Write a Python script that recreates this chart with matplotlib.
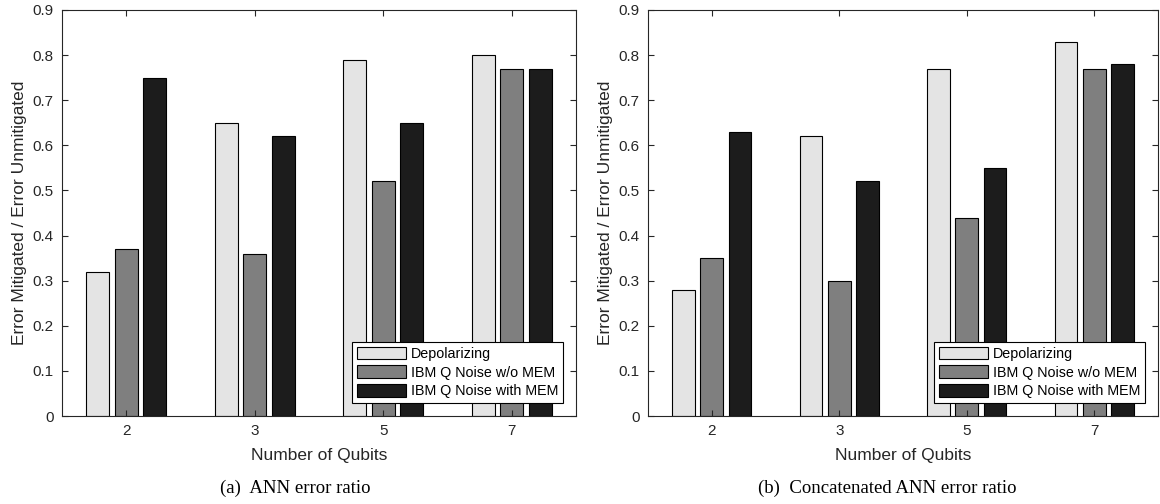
import matplotlib
matplotlib.use("Agg")
import matplotlib.pyplot as plt
import numpy as np

plt.rcParams['font.family'] = ['Liberation Sans', 'DejaVu Sans']

qubits = ['2', '3', '5', '7']
series_names = ['Depolarizing', 'IBM Q Noise w/o MEM', 'IBM Q Noise with MEM']

# (a) ANN error ratio
ann_depol = [0.32, 0.65, 0.79, 0.80]
ann_nomem = [0.37, 0.36, 0.52, 0.77]
ann_mem = [0.75, 0.62, 0.65, 0.77]

# (b) Concatenated ANN error ratio
cat_depol = [0.28, 0.62, 0.77, 0.83]
cat_nomem = [0.35, 0.30, 0.44, 0.77]
cat_mem = [0.63, 0.52, 0.55, 0.78]

colors = ['#e4e4e4', '#7f7f7f', '#1c1c1c']


def draw_panel(ax, groups):
    x = np.arange(1, len(qubits) + 1)
    step = 0.222
    width = 0.178
    for i, (vals, name) in enumerate(zip(groups, series_names)):
        ax.bar(x + (i - 1) * step, vals, width, color=colors[i],
               edgecolor='black', linewidth=0.8, label=name)
    ax.set_xlim(0.5, 4.5)
    ax.set_ylim(0, 0.9)
    ax.set_xticks(x)
    ax.set_xticklabels(qubits)
    ax.set_yticks(np.arange(0, 0.91, 0.1))
    ax.set_yticklabels(['0'] + ['%.1f' % v for v in np.arange(0.1, 0.91, 0.1)])
    ax.tick_params(direction='in', top=True, right=True, length=4,
                   width=0.8, labelsize=11, colors='#262626', pad=6)
    for s in ax.spines.values():
        s.set_linewidth(0.8)
        s.set_color('#262626')
    ax.set_xlabel('Number of Qubits', fontsize=12.5, color='#262626',
                  labelpad=7)
    ax.set_ylabel('Error Mitigated / Error Unmitigated', fontsize=12.5,
                  color='#262626')
    leg = ax.legend(loc='lower right', fontsize=10.3, handlelength=3.4,
                    handleheight=1.0, handletextpad=0.35, labelspacing=0.3,
                    borderpad=0.35, borderaxespad=0.9, fancybox=False,
                    edgecolor='black', framealpha=1)
    leg.get_frame().set_linewidth(0.8)


fig = plt.figure(figsize=(11.6, 5.04), dpi=100)
ax1 = fig.add_axes([62 / 1160, 88 / 504, 514 / 1160, 406 / 504])
ax2 = fig.add_axes([648 / 1160, 88 / 504, 510 / 1160, 406 / 504])

draw_panel(ax1, [ann_depol, ann_nomem, ann_mem])
draw_panel(ax2, [cat_depol, cat_nomem, cat_mem])

fig.text(295 / 1160, 1 - 488 / 504, '(a)  ANN error ratio', ha='center',
         va='center', fontsize=13.5, family=['Liberation Serif'])
fig.text(887 / 1160, 1 - 488 / 504, '(b)  Concatenated ANN error ratio',
         ha='center', va='center', fontsize=13.5, family=['Liberation Serif'])

fig.savefig('out.png', dpi=100)
